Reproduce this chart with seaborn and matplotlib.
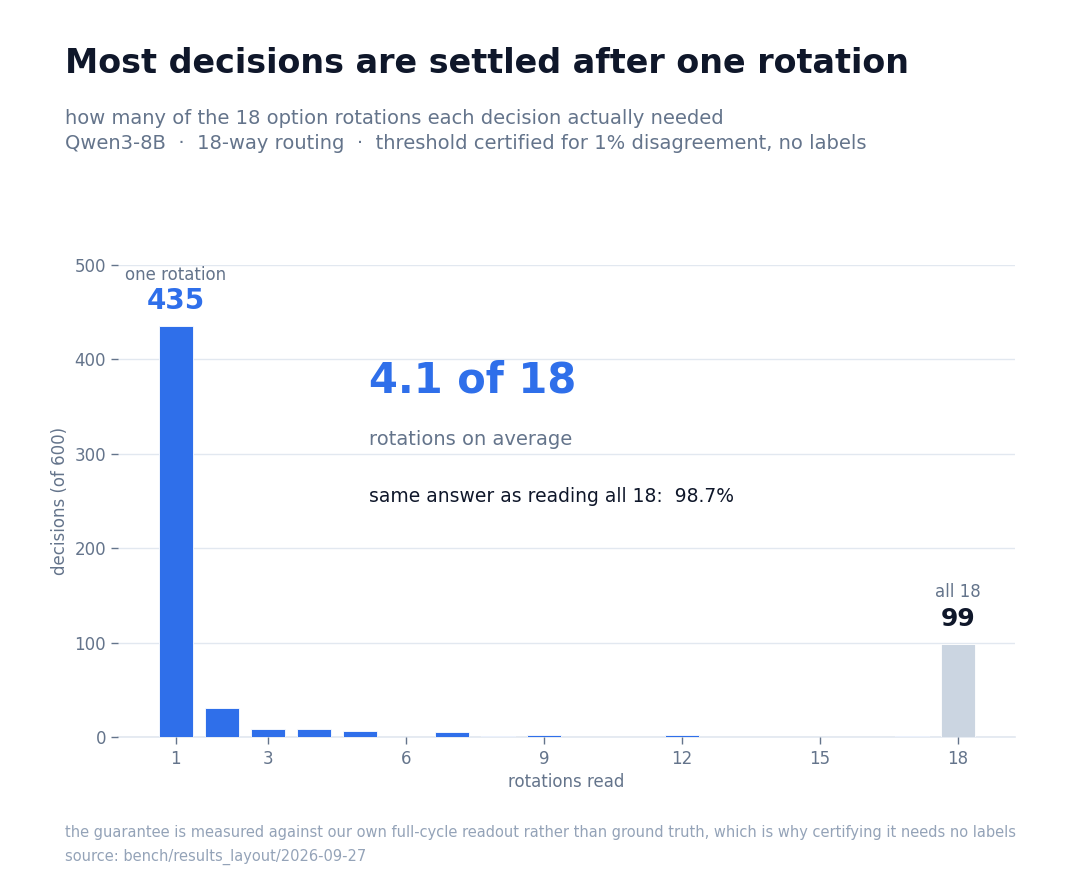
import matplotlib
matplotlib.use("Agg")
import matplotlib.pyplot as plt
import seaborn as sns
import pandas as pd

# rotations read per decision (1..18) and how many decisions stopped there
rotations = list(range(1, 19))
decisions = [435, 31, 9, 9, 6, 0, 5, 1, 2, 0, 0, 2, 0, 0, 0, 0, 1, 99]
x_ticks = [1, 3, 6, 9, 12, 15, 18]
y_ticks = [0, 100, 200, 300, 400, 500]

BLUE = "#2f6fea"
GREY_BAR = "#cbd5e1"
INK = "#0f172a"
MUTED = "#64748b"
FAINT = "#94a3b8"

df = pd.DataFrame({"rotations": rotations, "decisions": decisions})
df["group"] = ["all" if r == 18 else "early" for r in rotations]

# no seaborn theme here, plain white axes with DejaVu
plt.rcParams["font.family"] = ["DejaVu Sans"]

fig = plt.figure(figsize=(10.8, 8.88), dpi=100)
ax = fig.add_axes([0.109, 0.170, 0.831, 0.532])

sns.barplot(data=df, x="rotations", y="decisions", hue="group",
            palette={"early": BLUE, "all": GREY_BAR}, native_scale=True,
            width=0.74, dodge=False, legend=False, saturation=1,
            edgecolor="white", linewidth=0.6, ax=ax)

ax.set_xlim(-0.26, 19.24)
ax.set_ylim(0, 500)
ax.set_xticks(x_ticks)
ax.set_yticks(y_ticks)
ax.grid(axis="y", color="#e2e8f0", linewidth=1)
ax.grid(axis="x", visible=False)
ax.axhline(0, color="#e2e8f0", linewidth=1.2, zorder=0.5, clip_on=False)
ax.set_axisbelow(True)
for s in ax.spines.values():
    s.set_visible(False)
ax.tick_params(axis="both", colors=MUTED, labelsize=12, length=5, width=1,
               bottom=True, left=True)
ax.tick_params(axis="x", pad=4)
ax.set_xlabel("rotations read", color=MUTED, fontsize=12)
ax.set_ylabel("decisions (of 600)", color=MUTED, fontsize=12)

# bar labels
ax.text(1, 489, "one rotation", ha="center", va="center", color=MUTED, fontsize=12)
ax.text(1, 461, "435", ha="center", va="center", color=BLUE, fontsize=20, fontweight="bold")
ax.text(18, 154, "all 18", ha="center", va="center", color=MUTED, fontsize=12)
ax.text(18, 125, "99", ha="center", va="center", color=INK, fontsize=18, fontweight="bold")

# headline stat
ax.text(5.2, 377, "4.1 of 18", ha="left", va="center", color=BLUE, fontsize=30, fontweight="bold")
ax.text(5.2, 315, "rotations on average", ha="left", va="center", color=MUTED, fontsize=14)
ax.text(5.2, 255, "same answer as reading all 18:  98.7%", ha="left", va="center", color=INK, fontsize=13.5)

fig.text(0.060, 0.929, "Most decisions are settled after one rotation",
         ha="left", va="center", color=INK, fontsize=24, fontweight="bold")
fig.text(0.060, 0.866, "how many of the 18 option rotations each decision actually needed",
         ha="left", va="center", color=MUTED, fontsize=14)
fig.text(0.060, 0.838, "Qwen3-8B  \u00b7  18-way routing  \u00b7  threshold certified for 1% disagreement, no labels",
         ha="left", va="center", color=MUTED, fontsize=14)
fig.text(0.060, 0.062, "the guarantee is measured against our own full-cycle readout rather than ground truth, which is why certifying it needs no labels",
         ha="left", va="center", color=FAINT, fontsize=10.5)
fig.text(0.060, 0.035, "source: bench/results_layout/2026-09-27",
         ha="left", va="center", color=FAINT, fontsize=10.5)

fig.savefig("out.png", dpi=100)
